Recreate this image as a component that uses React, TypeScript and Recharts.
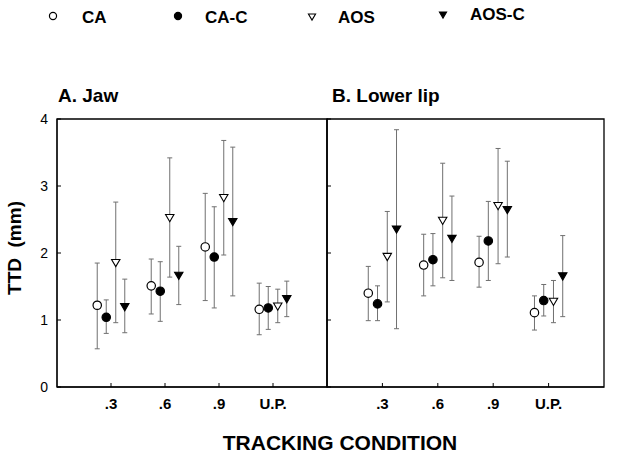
import React from 'react';
import {
  ErrorBar,
  ReferenceArea,
  Scatter,
  ScatterChart,
  XAxis,
  YAxis,
} from 'recharts';

const conditions = ['.3', '.6', '.9', 'U.P.'];
const yTicks = [0, 1, 2, 3, 4];

// A. Jaw
const jawCA = [1.22, 1.51, 2.09, 1.16];
const jawCALo = [0.57, 1.09, 1.29, 0.78];
const jawCAHi = [1.85, 1.91, 2.89, 1.55];
const jawCAC = [1.04, 1.43, 1.94, 1.18];
const jawCACLo = [0.8, 0.98, 1.18, 0.86];
const jawCACHi = [1.3, 1.87, 2.69, 1.5];
const jawAOS = [1.85, 2.52, 2.82, 1.2];
const jawAOSLo = [0.96, 1.64, 1.97, 0.96];
const jawAOSHi = [2.76, 3.42, 3.68, 1.46];
const jawAOSC = [1.19, 1.66, 2.46, 1.31];
const jawAOSCLo = [0.81, 1.23, 1.36, 1.05];
const jawAOSCHi = [1.61, 2.1, 3.58, 1.58];

// B. Lower lip
const lipCA = [1.4, 1.82, 1.86, 1.11];
const lipCALo = [0.99, 1.36, 1.49, 0.85];
const lipCAHi = [1.8, 2.28, 2.25, 1.36];
const lipCAC = [1.24, 1.9, 2.18, 1.29];
const lipCACLo = [0.99, 1.51, 1.59, 1.06];
const lipCACHi = [1.51, 2.29, 2.77, 1.53];
const lipAOS = [1.94, 2.48, 2.7, 1.27];
const lipAOSLo = [1.27, 1.63, 1.84, 0.96];
const lipAOSHi = [2.62, 3.34, 3.56, 1.59];
const lipAOSC = [2.35, 2.21, 2.64, 1.65];
const lipAOSCLo = [0.87, 1.59, 1.94, 1.05];
const lipAOSCHi = [3.84, 2.85, 3.37, 2.26];

const seriesOffsets = [-0.255, -0.088, 0.088, 0.255];
const FONT = 'Liberation Sans, Arial, sans-serif';

type Kind = 'openCircle' | 'circle' | 'openTri' | 'tri';

const build = (mean: number[], lo: number[], hi: number[], off: number) =>
  mean.map((y, i) => ({ x: i + 1 + off, y, err: [y - lo[i], hi[i] - y] }));

const Marker = ({ kind, cx, cy, small }: { kind: Kind; cx: number; cy: number; small?: boolean }) => {
  const s = small ? 0.85 : 1;
  if (kind === 'openCircle' || kind === 'circle') {
    return (
      <circle
        cx={cx}
        cy={cy}
        r={4.2 * s}
        fill={kind === 'circle' ? '#000' : '#fff'}
        stroke="#000"
        strokeWidth={1.2}
      />
    );
  }
  const w = 4.2 * s;
  const h = 3.6 * s;
  return (
    <polygon
      points={`${cx - w},${cy - h} ${cx + w},${cy - h} ${cx},${cy + h}`}
      fill={kind === 'tri' ? '#000' : '#fff'}
      stroke="#000"
      strokeWidth={1.1}
    />
  );
};

const Panel = ({
  series,
  left,
  width,
  marginRight,
  yWidth,
  showYLabels,
}: {
  series: { data: { x: number; y: number; err: number[] }[]; kind: Kind }[];
  left: number;
  width: number;
  marginRight: number;
  yWidth: number;
  showYLabels: boolean;
}) => (
  <div style={{ position: 'absolute', left, top: 0 }}>
    <ScatterChart
      width={width}
      height={461}
      margin={{ top: 119, right: marginRight, bottom: 44, left: 0 }}
    >
      <XAxis
        type="number"
        dataKey="x"
        domain={[0, 5]}
        ticks={[1, 2, 3, 4]}
        tickFormatter={(v: number) => conditions[v - 1]}
        height={30}
        tickSize={-4}
        tickMargin={15}
        stroke="#000"
        tick={{ fill: '#000', fontSize: 15, fontWeight: 'bold', fontFamily: FONT }}
        allowDataOverflow
      />
      <YAxis
        type="number"
        dataKey="y"
        domain={[0, 4]}
        ticks={yTicks}
        width={yWidth}
        tickSize={-4}
        tickMargin={13}
        stroke="#000"
        tick={showYLabels ? { fill: '#000', fontSize: 14, fontFamily: FONT } : () => <g />}
        allowDataOverflow
      />
      <ReferenceArea x1={0} x2={5} y1={0} y2={4} fill="none" stroke="#000" strokeWidth={1.3} />
      {series.map((s, i) => (
        <Scatter
          key={i}
          data={s.data}
          isAnimationActive={false}
          shape={(p: any) => <Marker kind={s.kind} cx={p.cx} cy={p.cy} />}
        >
          <ErrorBar dataKey="err" direction="y" width={2.5} stroke="#707070" strokeWidth={1} />
        </Scatter>
      ))}
    </ScatterChart>
  </div>
);

const kinds: Kind[] = ['openCircle', 'circle', 'openTri', 'tri'];

const jawSeries = [
  build(jawCA, jawCALo, jawCAHi, seriesOffsets[0]),
  build(jawCAC, jawCACLo, jawCACHi, seriesOffsets[1]),
  build(jawAOS, jawAOSLo, jawAOSHi, seriesOffsets[2]),
  build(jawAOSC, jawAOSCLo, jawAOSCHi, seriesOffsets[3]),
].map((data, i) => ({ data, kind: kinds[i] }));

const lipSeries = [
  build(lipCA, lipCALo, lipCAHi, seriesOffsets[0]),
  build(lipCAC, lipCACLo, lipCACHi, seriesOffsets[1]),
  build(lipAOS, lipAOSLo, lipAOSHi, seriesOffsets[2]),
  build(lipAOSC, lipAOSCLo, lipAOSCHi, seriesOffsets[3]),
].map((data, i) => ({ data, kind: kinds[i] }));

const legendItems = [
  { name: 'CA', kind: 'openCircle' as Kind, mx: 53, my: 16, tx: 82, ty: 23 },
  { name: 'CA-C', kind: 'circle' as Kind, mx: 178, my: 16, tx: 205, ty: 23 },
  { name: 'AOS', kind: 'openTri' as Kind, mx: 312, my: 17, tx: 338, ty: 23 },
  { name: 'AOS-C', kind: 'tri' as Kind, mx: 443, my: 15, tx: 470, ty: 20 },
];

export default function App() {
  return (
    <div
      style={{
        position: 'absolute',
        left: 0,
        top: 0,
        width: 624,
        height: 461,
        background: '#fff',
        fontFamily: FONT,
      }}
    >
      <svg width={624} height={461} style={{ position: 'absolute', left: 0, top: 0 }}>
        {legendItems.map((l) => (
          <g key={l.name}>
            <Marker kind={l.kind} cx={l.mx} cy={l.my} small />
            <text x={l.tx} y={l.ty} fontSize={17} fontWeight="bold" fontFamily={FONT}>
              {l.name}
            </text>
          </g>
        ))}
        <text x={58} y={102} fontSize={19} fontWeight="bold" fontFamily={FONT}>
          A. Jaw
        </text>
        <text x={332} y={102} fontSize={19} fontWeight="bold" fontFamily={FONT}>
          B. Lower lip
        </text>
        <text
          x={21}
          y={248}
          transform="rotate(-90 21 248)"
          textAnchor="middle"
          fontSize={19}
          fontWeight="bold"
          fontFamily={FONT}
          style={{ whiteSpace: 'pre' }}
        >
          TTD  (mm)
        </text>
        <text x={340} y={450} textAnchor="middle" fontSize={21} fontWeight="bold" fontFamily={FONT}>
          TRACKING CONDITION
        </text>
      </svg>
      <Panel series={jawSeries} left={0} width={340} marginRight={13} yWidth={57} showYLabels />
      <Panel series={lipSeries} left={317} width={307} marginRight={20} yWidth={10} showYLabels={false} />
    </div>
  );
}
